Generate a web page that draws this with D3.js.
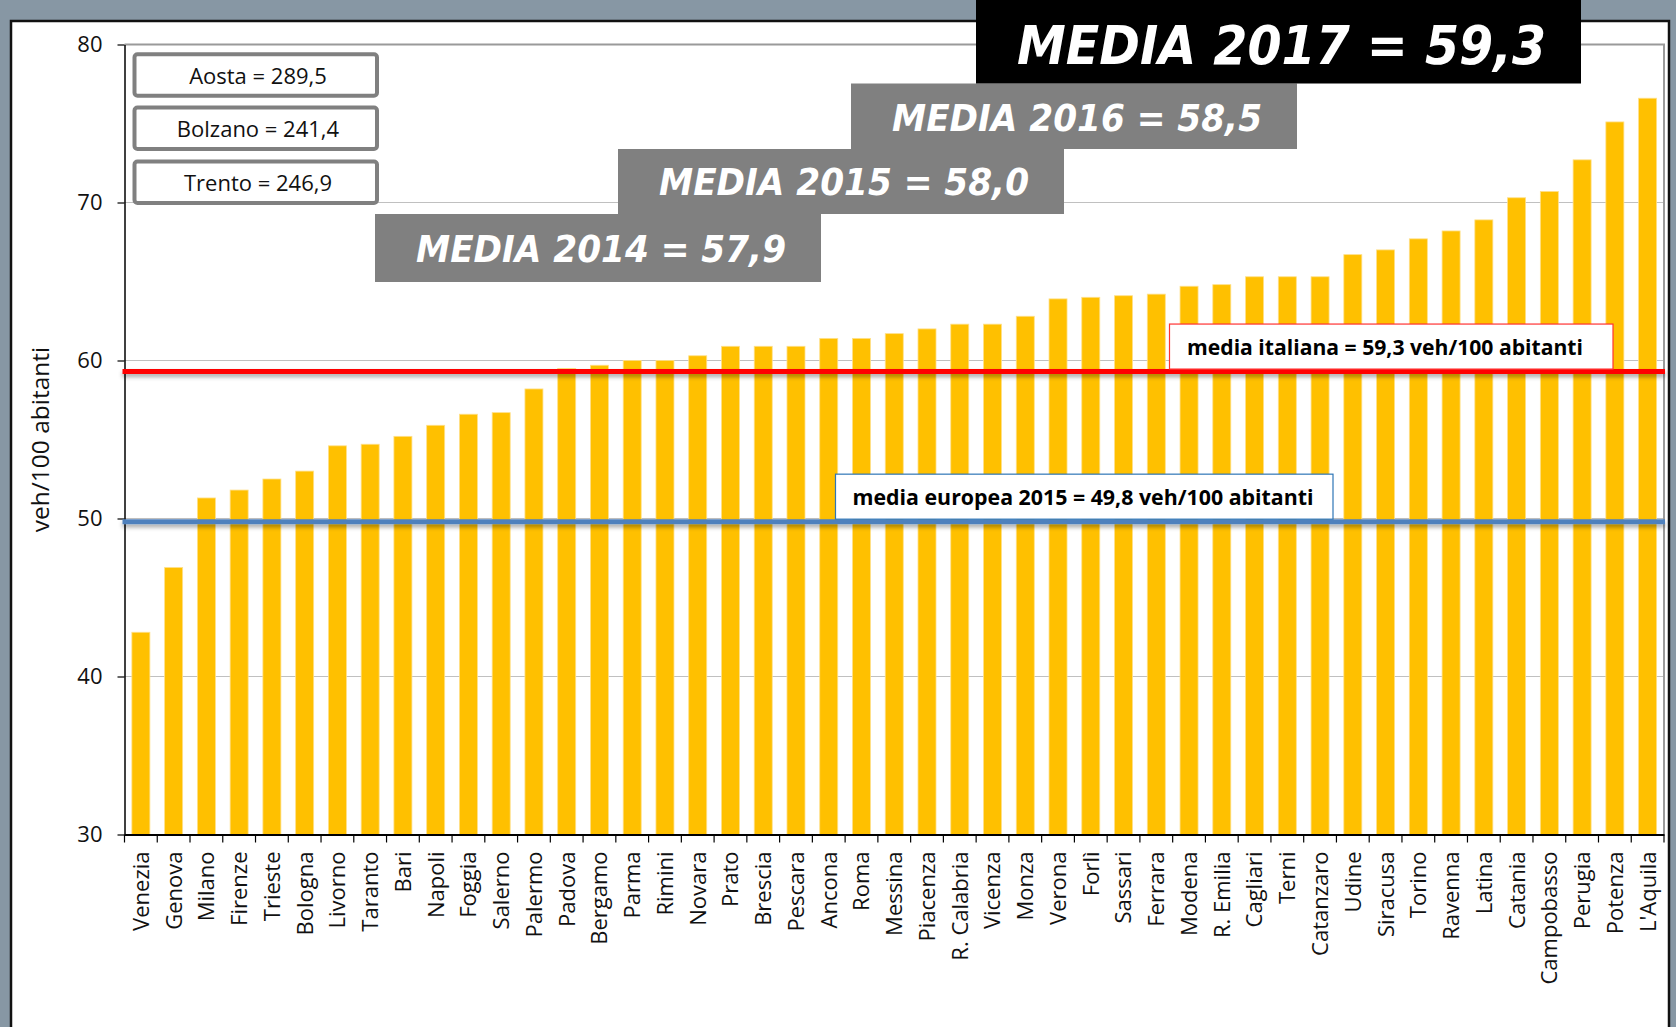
<!DOCTYPE html>
<html>
<head>
<meta charset="utf-8">
<script src="https://cdn.jsdelivr.net/npm/d3@7"></script>
<style>
  html, body { margin: 0; padding: 0; background: #8797a4; }
  svg { display: block; }
</style>
</head>
<body>
<svg id="chart" width="1676" height="1027"></svg>
<script>
// ---------------- DATA ----------------
const categories = ["Venezia","Genova","Milano","Firenze","Trieste","Bologna","Livorno","Taranto","Bari","Napoli",
  "Foggia","Salerno","Palermo","Padova","Bergamo","Parma","Rimini","Novara","Prato","Brescia",
  "Pescara","Ancona","Roma","Messina","Piacenza","R. Calabria","Vicenza","Monza","Verona","Forlì",
  "Sassari","Ferrara","Modena","R. Emilia","Cagliari","Terni","Catanzaro","Udine","Siracusa","Torino",
  "Ravenna","Latina","Catania","Campobasso","Perugia","Potenza","L'Aquila"];
const values = [42.8,46.9,51.3,51.8,52.5,53.0,54.6,54.7,55.2,55.9,
  56.6,56.7,58.2,59.5,59.7,60.0,60.0,60.3,60.9,60.9,
  60.9,61.4,61.4,61.7,62.0,62.3,62.3,62.8,63.9,64.0,
  64.1,64.2,64.7,64.8,65.3,65.3,65.3,66.7,67.0,67.7,
  68.2,68.9,70.3,70.7,72.7,75.1,76.6];
const yTicks = [30,40,50,60,70,80];
const yDomain = [30,80];
const yTitle = "veh/100 abitanti";
const refValues = [59.3, 49.8];
const refLabels = ["media italiana = 59,3 veh/100 abitanti", "media europea 2015 = 49,8 veh/100 abitanti"];
const outlierLabels = ["Aosta = 289,5", "Bolzano = 241,4", "Trento = 246,9"];
const mediaLabels = ["MEDIA 2017 = 59,3", "MEDIA 2016 = 58,5", "MEDIA 2015 = 58,0", "MEDIA 2014 = 57,9"];

// ---------------- LAYOUT ----------------
const W = 1676, H = 1027;
const plot = {left: 124.5, right: 1664, top: 44.5, bottom: 834.5};
const svg = d3.select("#chart");
const FONT = "'Open Sans', 'Noto Sans', sans-serif";
const TITLEFONT = "'DejaVu Sans Condensed', 'DejaVu Sans', sans-serif";

const defs = svg.append("defs");
const sh = defs.append("filter").attr("id","lineShadow").attr("filterUnits","userSpaceOnUse")
  .attr("x",0).attr("y",0).attr("width",W).attr("height",H);
sh.append("feDropShadow").attr("dx",0).attr("dy",3).attr("stdDeviation",2).attr("flood-color","#000").attr("flood-opacity",0.35);

// background + panel
svg.append("rect").attr("width",W).attr("height",H).attr("fill","#8797a4");
svg.append("rect").attr("x",11).attr("y",21).attr("width",1658).attr("height",1100)
  .attr("fill","#ffffff").attr("stroke","#111").attr("stroke-width",2.5);

// scales
const x = d3.scaleBand().domain(categories).range([plot.left, plot.right]).paddingInner(0.45).paddingOuter(0.225);
const y = d3.scaleLinear().domain(yDomain).range([plot.bottom, plot.top]);

// gridlines
svg.append("g").selectAll("line").data(yTicks.filter(t => t > yDomain[0] && t < yDomain[1])).join("line")
  .attr("x1",plot.left).attr("x2",plot.right).attr("y1",d=>y(d)).attr("y2",d=>y(d))
  .attr("stroke","#c0c0c0").attr("stroke-width",1.2);
// top and right border of plot area
svg.append("path").attr("d",`M${plot.left},${y(yDomain[1])}H${plot.right}V${plot.bottom}`)
  .attr("fill","none").attr("stroke","#9a9a9a").attr("stroke-width",2);

// bars
svg.append("g").selectAll("rect").data(categories).join("rect")
  .attr("x", d => x(d)).attr("width", x.bandwidth())
  .attr("y", (d,i) => y(values[i])).attr("height", (d,i) => y(yDomain[0]) - y(values[i]))
  .attr("fill","#FFC000").attr("stroke","#FFE08A").attr("stroke-width",0.8);

// y axis
const yAxis = svg.append("g").attr("transform",`translate(${plot.left},0)`)
  .call(d3.axisLeft(y).tickValues(yTicks).tickSize(7).tickSizeOuter(0).tickPadding(15).tickFormat(d3.format("d")));
yAxis.select(".domain").attr("stroke","#000").attr("stroke-width",1.5);
yAxis.selectAll(".tick line").attr("stroke","#000").attr("stroke-width",1.2);
yAxis.selectAll(".tick text").attr("font-family",FONT).attr("font-size",22).attr("fill","#111");

// x axis
const xAxis = svg.append("g").attr("transform",`translate(0,${plot.bottom})`)
  .call(d3.axisBottom(x).tickSize(0).tickSizeOuter(0).tickPadding(0));
xAxis.select(".domain").attr("stroke","#000").attr("stroke-width",1.8);
xAxis.selectAll(".tick text")
  .attr("font-family",FONT).attr("font-size",22).attr("fill","#111")
  .attr("transform","rotate(-90)").attr("text-anchor","end")
  .attr("x",-17).attr("y",0).attr("dy","0.36em");
// boundary ticks
const bounds = categories.map(c => x(c) + x.bandwidth()/2 - x.step()/2);
bounds.push(x(categories[categories.length-1]) + x.bandwidth()/2 + x.step()/2);
svg.append("g").selectAll("line").data(bounds).join("line")
  .attr("x1",d=>d).attr("x2",d=>d).attr("y1",plot.bottom).attr("y2",plot.bottom+8)
  .attr("stroke","#000").attr("stroke-width",1.2);

// y title
svg.append("text").attr("transform",`translate(49,${y(55)}) rotate(-90)`)
  .attr("text-anchor","middle").attr("font-family",FONT).attr("font-size",24.5).attr("fill","#111")
  .text(yTitle);

// reference lines
const refColors = ["#FF0000", "#4F81BD"];
svg.append("g").attr("filter","url(#lineShadow)").selectAll("line").data(refValues).join("line")
  .attr("x1",plot.left-2).attr("x2",plot.right+1).attr("y1",d=>y(d)).attr("y2",d=>y(d))
  .attr("stroke",(d,i)=>refColors[i]).attr("stroke-width",5);

// reference labels
const refBoxes = [
  {x0:1169.5, x1:1613, h:45, tl:396, cx:1385, border:"#FF3333"},
  {x0:835.5, x1:1333, h:45, tl:461, cx:1083, border:"#2E75B6"}
];
refLabels.forEach((lab,i) => {
  const b = refBoxes[i];
  const yb = y(refValues[i]) - 2.5;
  svg.append("rect").attr("x",b.x0).attr("y",yb - b.h).attr("width",b.x1-b.x0).attr("height",b.h)
    .attr("fill","#fff").attr("stroke",b.border).attr("stroke-width",1.2);
  svg.append("text").attr("x",b.cx).attr("y",yb - b.h/2 + 8)
    .attr("text-anchor","middle").attr("font-family",FONT).attr("font-weight","bold").attr("font-size",21)
    .attr("fill","#000").attr("textLength",b.tl).attr("lengthAdjust","spacingAndGlyphs").text(lab);
});

// outlier boxes
const outTops = [52.3, 105.5, 159.5];
outlierLabels.forEach((lab,i) => {
  svg.append("rect").attr("x",134.5).attr("y",outTops[i]+2).attr("width",242.5).attr("height",41.5)
    .attr("rx",3).attr("fill","#fff").attr("stroke","#808080").attr("stroke-width",4);
  svg.append("text").attr("x",258).attr("y",outTops[i]+31.5)
    .attr("text-anchor","middle").attr("font-family",FONT).attr("font-size",22).attr("fill","#111").text(lab);
});

// MEDIA boxes
const mediaBoxes = [
  {x0:976, x1:1581, y0:0, y1:83.5, fill:"#000", size:53, tl:529, base:64},
  {x0:851, x1:1297, y0:83.5, y1:149, fill:"#808080", size:37, tl:370, base:131},
  {x0:618, x1:1064, y0:149, y1:214, fill:"#808080", size:37, tl:370, base:195},
  {x0:375, x1:821, y0:214, y1:282, fill:"#808080", size:37, tl:370, base:262}
];
for (let i = mediaBoxes.length-1; i >= 0; i--) {
  const b = mediaBoxes[i];
  svg.append("rect").attr("x",b.x0).attr("y",b.y0).attr("width",b.x1-b.x0).attr("height",b.y1-b.y0).attr("fill",b.fill);
  svg.append("text").attr("x",(b.x0+b.x1)/2 + 3).attr("y",b.base)
    .attr("text-anchor","middle").attr("font-family",TITLEFONT).attr("font-weight","bold").attr("font-style","italic")
    .attr("font-size",b.size).attr("fill","#fff")
    .attr("textLength",b.tl).attr("lengthAdjust","spacingAndGlyphs").text(mediaLabels[i]);
}
</script>
</body>
</html>
